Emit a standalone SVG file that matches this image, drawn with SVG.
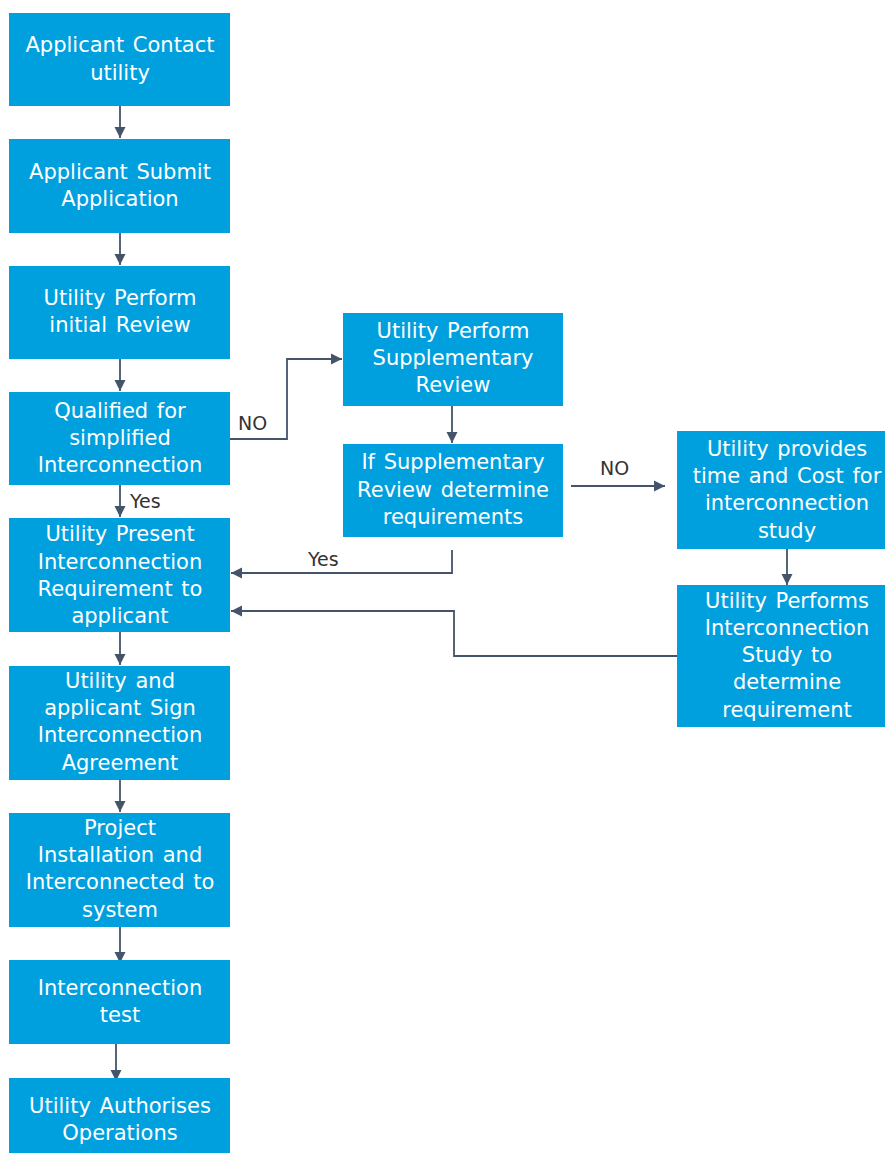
<svg xmlns="http://www.w3.org/2000/svg" width="885" height="1153" viewBox="0 0 885 1153">
<defs>
<marker id="ah" markerWidth="12" markerHeight="12" refX="11" refY="6" orient="auto" markerUnits="userSpaceOnUse">
<path d="M0,0.5 L11,6 L0,11.5 z" fill="#44546A"/>
</marker>
<style>
.box{fill:#00A0DF;}
.t{font-family:"DejaVu Sans",Verdana,sans-serif;font-size:21px;word-spacing:2px;fill:#FFFFFF;text-anchor:middle;}
.lbl{font-family:"DejaVu Sans",Verdana,sans-serif;font-size:19px;fill:#333333;}
.c{fill:none;stroke:#44546A;stroke-width:1.8;}
</style>
</defs>
<rect width="885" height="1153" fill="#FFFFFF"/>
<g id="connectors">
<path class="c" d="M120,106 V138" marker-end="url(#ah)"/>
<path class="c" d="M120,233 V265" marker-end="url(#ah)"/>
<path class="c" d="M120,359 V391" marker-end="url(#ah)"/>
<path class="c" d="M120,485 V517" marker-end="url(#ah)"/>
<path class="c" d="M120,632 V665" marker-end="url(#ah)"/>
<path class="c" d="M120,780 V812" marker-end="url(#ah)"/>
<path class="c" d="M120,927 V963" marker-end="url(#ah)"/>
<path class="c" d="M116,1044 V1081" marker-end="url(#ah)"/>
<path class="c" d="M230,439 H287 V359 H342" marker-end="url(#ah)"/>
<path class="c" d="M452,406 V443" marker-end="url(#ah)"/>
<path class="c" d="M571,486 H665" marker-end="url(#ah)"/>
<path class="c" d="M452,550 V573 H231" marker-end="url(#ah)"/>
<path class="c" d="M787,549 V585" marker-end="url(#ah)"/>
<path class="c" d="M677,656 H454 V611 H231" marker-end="url(#ah)"/>
<text class="lbl" x="238" y="430">NO</text>
<text class="lbl" x="130" y="508">Yes</text>
<text class="lbl" x="308" y="566">Yes</text>
<text class="lbl" x="600" y="475">NO</text>
</g>
<g id="n1"><rect class="box" x="9" y="13" width="221" height="93"/>
<text class="t"><tspan x="120" y="52">Applicant Contact</tspan><tspan x="120" y="80">utility</tspan></text></g>
<g id="n2"><rect class="box" x="9" y="139" width="221" height="94"/>
<text class="t"><tspan x="120" y="179">Applicant Submit</tspan><tspan x="120" y="206">Application</tspan></text></g>
<g id="n3"><rect class="box" x="9" y="266" width="221" height="93"/>
<text class="t"><tspan x="120" y="305">Utility Perform</tspan><tspan x="120" y="332">initial Review</tspan></text></g>
<g id="n4"><rect class="box" x="9" y="392" width="221" height="93"/>
<text class="t"><tspan x="120" y="418">Qualified for</tspan><tspan x="120" y="445">simplified</tspan><tspan x="120" y="472">Interconnection</tspan></text></g>
<g id="n5"><rect class="box" x="9" y="518" width="221" height="114"/>
<text class="t"><tspan x="120" y="541">Utility Present</tspan><tspan x="120" y="569">Interconnection</tspan><tspan x="120" y="596">Requirement to</tspan><tspan x="120" y="623">applicant</tspan></text></g>
<g id="n6"><rect class="box" x="9" y="666" width="221" height="114"/>
<text class="t"><tspan x="120" y="688">Utility and</tspan><tspan x="120" y="715">applicant Sign</tspan><tspan x="120" y="742">Interconnection</tspan><tspan x="120" y="770">Agreement</tspan></text></g>
<g id="n7"><rect class="box" x="9" y="813" width="221" height="114"/>
<text class="t"><tspan x="120" y="835">Project</tspan><tspan x="120" y="862">Installation and</tspan><tspan x="120" y="889">Interconnected to</tspan><tspan x="120" y="917">system</tspan></text></g>
<g id="n8"><rect class="box" x="9" y="960" width="221" height="84"/>
<text class="t"><tspan x="120" y="995">Interconnection</tspan><tspan x="120" y="1022">test</tspan></text></g>
<g id="n9"><rect class="box" x="9" y="1078" width="221" height="75"/>
<text class="t"><tspan x="120" y="1113">Utility Authorises</tspan><tspan x="120" y="1140">Operations</tspan></text></g>
<g id="n10"><rect class="box" x="343" y="313" width="220" height="93"/>
<text class="t"><tspan x="453" y="338">Utility Perform</tspan><tspan x="453" y="365">Supplementary</tspan><tspan x="453" y="392">Review</tspan></text></g>
<g id="n11"><rect class="box" x="343" y="444" width="220" height="93"/>
<text class="t"><tspan x="453" y="469">If Supplementary</tspan><tspan x="453" y="497">Review determine</tspan><tspan x="453" y="524">requirements</tspan></text></g>
<g id="n12"><rect class="box" x="677" y="431" width="208" height="118"/>
<text class="t"><tspan x="787" y="456">Utility provides</tspan><tspan x="787" y="483">time and Cost for</tspan><tspan x="787" y="510">interconnection</tspan><tspan x="787" y="538">study</tspan></text></g>
<g id="n13"><rect class="box" x="677" y="585" width="208" height="142"/>
<text class="t"><tspan x="787" y="608">Utility Performs</tspan><tspan x="787" y="635">Interconnection</tspan><tspan x="787" y="662">Study to</tspan><tspan x="787" y="689">determine</tspan><tspan x="787" y="717">requirement</tspan></text></g>
</svg>
